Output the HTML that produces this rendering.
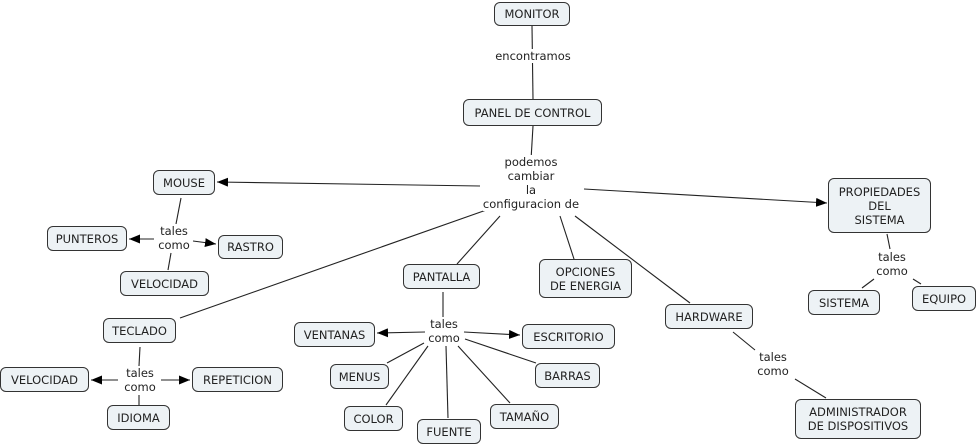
<!DOCTYPE html>
<html><head><meta charset="utf-8"><style>
body{margin:0;width:979px;height:446px;background:#fff;position:relative;overflow:hidden;font-family:"DejaVu Sans","Liberation Sans",sans-serif;font-size:11.5px;color:#222}
.b{position:absolute;box-sizing:border-box;border:1px solid #333;border-radius:6px;background:#edf2f5;display:flex;align-items:center;justify-content:center;text-align:center;line-height:14px}
.l{position:absolute;text-align:center;line-height:14px;background:#fff;transform:translateX(-50%);white-space:nowrap}
svg{position:absolute;left:0;top:0}
</style></head><body>
<svg width="979" height="446"><defs><marker id="a" markerWidth="11" markerHeight="9" refX="11" refY="4.5" orient="auto" markerUnits="userSpaceOnUse"><path d="M0,0L11,4.5L0,9z" fill="#000"/></marker></defs>
<g stroke="#222" stroke-width="1.1" fill="none">
<line x1="532" y1="26" x2="533" y2="99"/>
<line x1="533" y1="126" x2="531" y2="160"/>
<line x1="480" y1="186" x2="217" y2="182" marker-end="url(#a)"/>
<line x1="584" y1="189" x2="827" y2="203" marker-end="url(#a)"/>
<line x1="492" y1="208" x2="180" y2="318"/>
<line x1="500" y1="216" x2="457" y2="264"/>
<line x1="560" y1="216" x2="574" y2="259"/>
<line x1="575" y1="216" x2="690" y2="303"/>
<line x1="181" y1="198" x2="176" y2="224"/>
<line x1="154" y1="239" x2="129" y2="239" marker-end="url(#a)"/>
<line x1="193" y1="241" x2="216" y2="244" marker-end="url(#a)"/>
<line x1="171" y1="253" x2="168" y2="270"/>
<line x1="140" y1="347" x2="139" y2="366"/>
<line x1="118" y1="380" x2="91" y2="380" marker-end="url(#a)"/>
<line x1="161" y1="380" x2="190" y2="380" marker-end="url(#a)"/>
<line x1="139" y1="395" x2="139" y2="405"/>
<line x1="443" y1="292" x2="443" y2="317"/>
<line x1="425" y1="332" x2="377" y2="333" marker-end="url(#a)"/>
<line x1="464" y1="332" x2="520" y2="335" marker-end="url(#a)"/>
<line x1="424" y1="343" x2="387" y2="363"/>
<line x1="428" y1="346" x2="386" y2="405"/>
<line x1="446" y1="346" x2="448" y2="418"/>
<line x1="458" y1="346" x2="510" y2="403"/>
<line x1="465" y1="339" x2="536" y2="363"/>
<line x1="733" y1="332" x2="755" y2="350"/>
<line x1="795" y1="379" x2="826" y2="398"/>
<line x1="887" y1="234" x2="890" y2="249"/>
<line x1="874" y1="279" x2="862" y2="288"/>
<line x1="913" y1="279" x2="921" y2="284"/>
</g></svg>
<div class="b" style="left:494px;top:2px;width:76px;height:24px">MONITOR</div>
<div class="b" style="left:463px;top:99px;width:139px;height:27px">PANEL DE CONTROL</div>
<div class="b" style="left:153px;top:170px;width:62px;height:25px">MOUSE</div>
<div class="b" style="left:47px;top:226px;width:80px;height:25px">PUNTEROS</div>
<div class="b" style="left:218px;top:235px;width:65px;height:24px">RASTRO</div>
<div class="b" style="left:120px;top:271px;width:89px;height:25px">VELOCIDAD</div>
<div class="b" style="left:103px;top:318px;width:73px;height:25px">TECLADO</div>
<div class="b" style="left:0px;top:367px;width:89px;height:25px">VELOCIDAD</div>
<div class="b" style="left:192px;top:367px;width:91px;height:25px">REPETICION</div>
<div class="b" style="left:107px;top:405px;width:63px;height:25px">IDIOMA</div>
<div class="b" style="left:403px;top:264px;width:77px;height:25px">PANTALLA</div>
<div class="b" style="left:539px;top:259px;width:93px;height:39px">OPCIONES<br>DE ENERGIA</div>
<div class="b" style="left:294px;top:322px;width:81px;height:25px">VENTANAS</div>
<div class="b" style="left:522px;top:324px;width:93px;height:25px">ESCRITORIO</div>
<div class="b" style="left:330px;top:364px;width:59px;height:25px">MENUS</div>
<div class="b" style="left:535px;top:363px;width:65px;height:25px">BARRAS</div>
<div class="b" style="left:344px;top:406px;width:59px;height:25px">COLOR</div>
<div class="b" style="left:417px;top:419px;width:64px;height:25px">FUENTE</div>
<div class="b" style="left:490px;top:404px;width:69px;height:25px">TAMAÑO</div>
<div class="b" style="left:665px;top:304px;width:88px;height:25px">HARDWARE</div>
<div class="b" style="left:795px;top:399px;width:126px;height:40px">ADMINISTRADOR<br>DE DISPOSITIVOS</div>
<div class="b" style="left:828px;top:178px;width:103px;height:55px">PROPIEDADES<br>DEL<br>SISTEMA</div>
<div class="b" style="left:808px;top:290px;width:72px;height:25px">SISTEMA</div>
<div class="b" style="left:912px;top:286px;width:64px;height:25px">EQUIPO</div>
<div class="l" style="left:533px;top:49px">encontramos</div>
<div class="l" style="left:531px;top:155px">podemos<br>cambiar<br>la<br>configuracion de</div>
<div class="l" style="left:174px;top:224px">tales<br>como</div>
<div class="l" style="left:140px;top:366px">tales<br>como</div>
<div class="l" style="left:444px;top:317px">tales<br>como</div>
<div class="l" style="left:773px;top:350px">tales<br>como</div>
<div class="l" style="left:892px;top:250px">tales<br>como</div>
</body></html>
